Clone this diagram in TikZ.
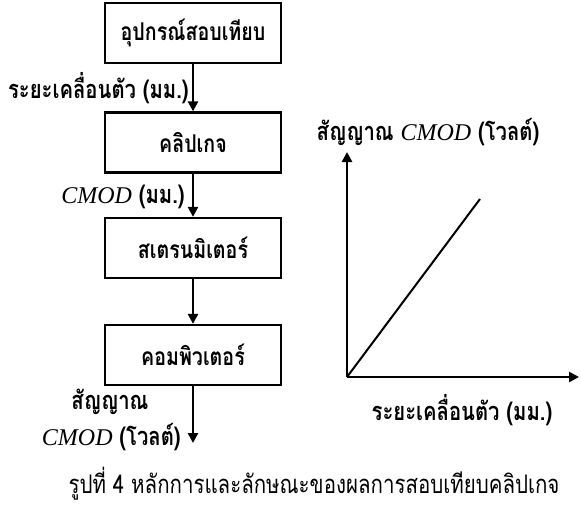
\documentclass[tikz,border=0pt]{standalone}
\usepackage{fontspec}
\setmainfont[Script=Thai,FakeStretch=0.8]{Loma}
\newfontfamily\tmsfont{Liberation Serif}
\newcommand\cmodtxt{{\tmsfont\mdseries\itshape\fontsize{18}{20}\selectfont CMOD}}
\usetikzlibrary{arrows.meta}
\tikzset{
  blockbox/.style={draw, line width=1.7pt, minimum width=132pt, minimum height=45pt, inner sep=0pt, font=\fontsize{18.4}{20}\selectfont\bfseries},
  flowarrow/.style={line width=2pt, -{Triangle[length=7.5pt,width=7.5pt]}},
  lbl/.style={font=\fontsize{19}{21}\selectfont\bfseries, inner sep=0pt},
  captxt/.style={font=\fontsize{19.2}{21}\selectfont, inner sep=0pt}
}
\begin{document}
\begin{tikzpicture}[x=0.75pt,y=-0.75pt]
\useasboundingbox (0,0) rectangle (581,506);
\node[blockbox] (b1) at (193,33) {อุปกรณ์สอบเทียบ};
\node[blockbox] (b2) at (193,142.5) {คลิปเกจ};
\node[blockbox] (b3) at (193,248) {สเตรนมิเตอร์};
\node[blockbox] (b4) at (193,355) {คอมพิวเตอร์};
\coordinate (out) at (193,443);
\draw[flowarrow] (b1) -- (b2);
\draw[flowarrow] (b2) -- (b3);
\draw[flowarrow] (b3) -- (b4);
\draw[flowarrow] (b4) -- (out);
\node[lbl, anchor=east] (l1) at (189,88) {ระยะเคลื่อนตัว (มม.)};
\node[lbl, anchor=east] (l2) at (185,197) {\cmodtxt{} (มม.)};
\node[lbl] (l3) at (110,402) {สัญญาณ};
\node[lbl, anchor=east] (l4) at (181,437) {\cmodtxt{} (โวลต์)};
% graph
\coordinate (O) at (347,377);
\coordinate (ytip) at (347,152);
\coordinate (xtip) at (579,377);
\coordinate (lend) at (480,199);
\draw[flowarrow] (O) -- (ytip);
\draw[flowarrow] (O) -- (xtip);
\draw[line width=1.5pt] (O) -- (lend);
\node[lbl] (ylab) at (428,132) {สัญญาณ \cmodtxt{} (โวลต์)};
\node[lbl] (xlab) at (462,410) {ระยะเคลื่อนตัว (มม.)};
\node[captxt] (cap) at (314,484) {รูปที่ 4 หลักการและลักษณะของผลการสอบเทียบคลิปเกจ};
\end{tikzpicture}
\end{document}
